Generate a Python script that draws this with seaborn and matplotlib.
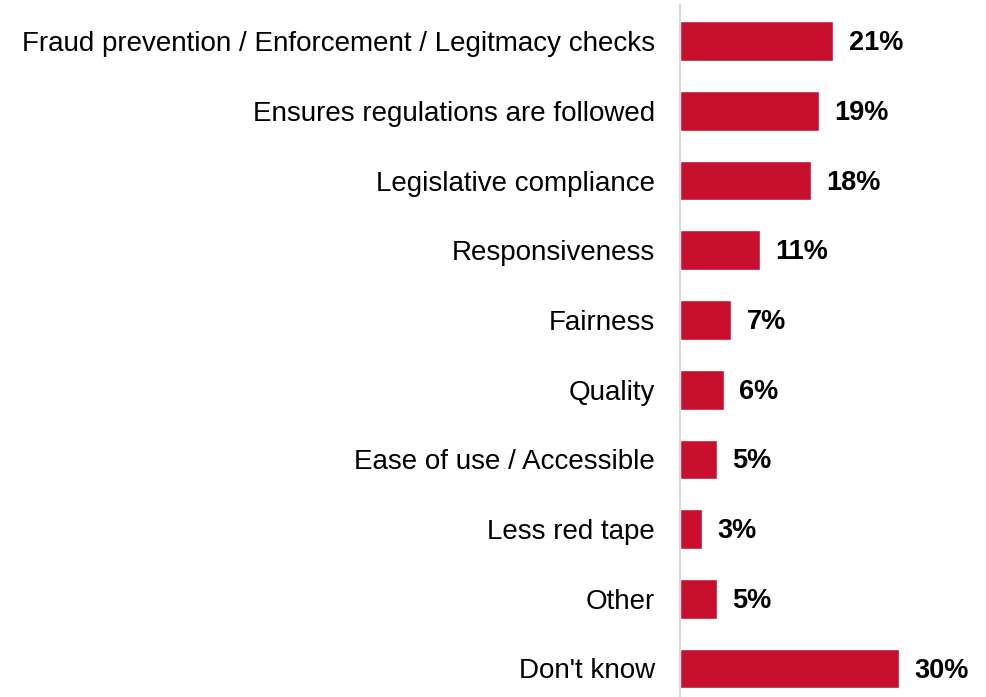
import pandas as pd
import seaborn as sns
import matplotlib.pyplot as plt

# categories and shares (%)
categories = ["Fraud prevention / Enforcement / Legitmacy checks",
              "Ensures regulations are followed",
              "Legislative compliance",
              "Responsiveness",
              "Fairness",
              "Quality",
              "Ease of use / Accessible",
              "Less red tape",
              "Other",
              "Don't know"]
values = [21, 19, 18, 11, 7, 6, 5, 3, 5, 30]
labels = ["21%", "19%", "18%", "11%", "7%", "6%", "5%", "3%", "5%", "30%"]

df = pd.DataFrame({"category": categories, "value": values})

sns.set_style("white")
plt.rcParams['font.family'] = ['Liberation Sans', 'DejaVu Sans']

fig = plt.figure(figsize=(9.86, 6.97), dpi=100)
ax = fig.add_axes([680/986, 0, 306/986, 692/697])

sns.barplot(data=df, x="value", y="category", color="#C8102E", saturation=1,
            width=0.57, ax=ax)

# value labels
for i, (v, lab) in enumerate(zip(values, labels)):
    ax.text(v + 2.1, i + 0.03, lab, va="center", ha="left", fontsize=19.5,
            fontweight="bold", color="black")

ax.set_xlim(0, 306/7.3)
ax.set_ylim(9.41, -0.52)
ax.set_xlabel("")
ax.set_ylabel("")
ax.set_xticks([])
ax.tick_params(axis="y", length=0, pad=18, labelsize=20, labelcolor="black")
for s in ["top", "right", "bottom"]:
    ax.spines[s].set_visible(False)
ax.spines["left"].set_color("#D9D9D9")
ax.spines["left"].set_linewidth(1.5)

fig.savefig("out.png", dpi=100)
